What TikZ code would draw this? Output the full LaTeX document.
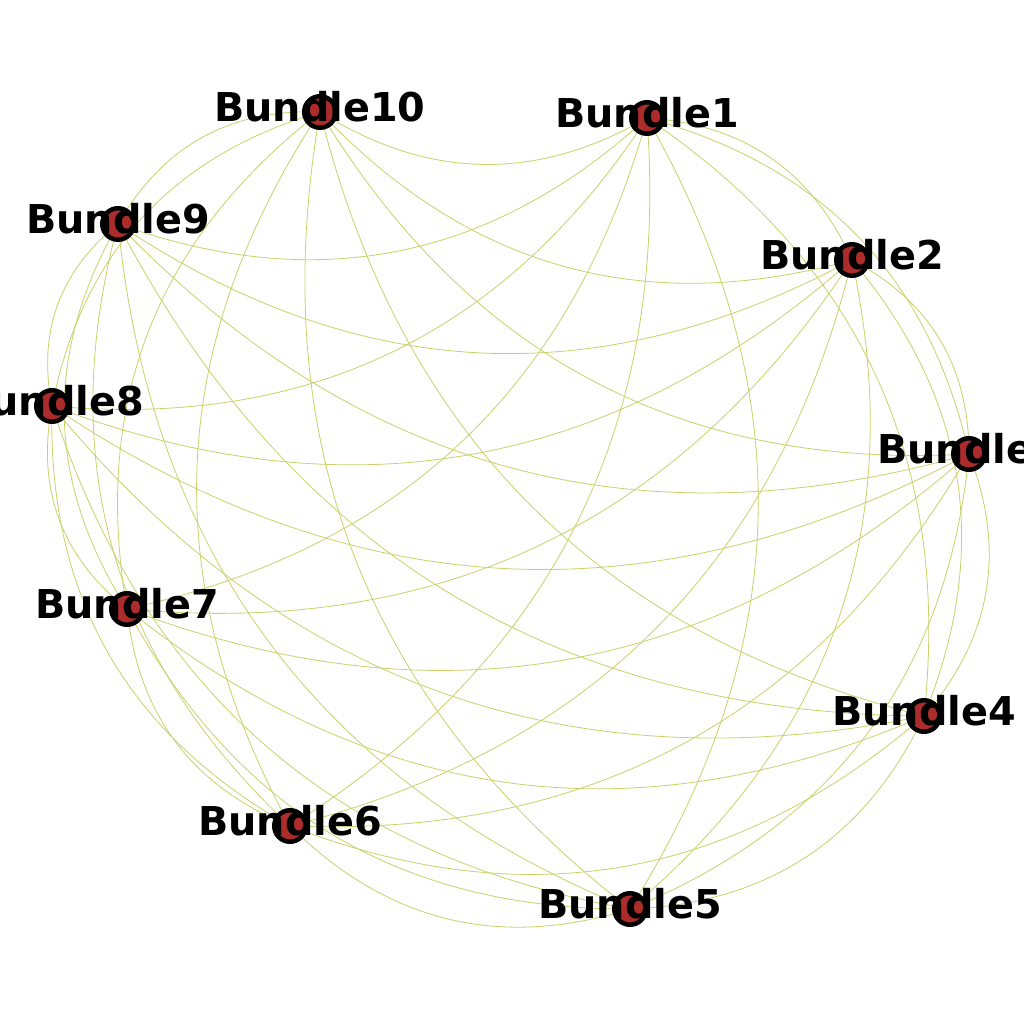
\documentclass[tikz,border=0pt]{standalone}
\usepackage{fontspec}
\setmainfont{DejaVu Sans}
\definecolor{edgecol}{RGB}{200,210,105}
\definecolor{nodefill}{RGB}{172,44,44}
\pgfdeclarelayer{bg}
\pgfsetlayers{bg,main}
\begin{document}
\begin{tikzpicture}[x=0.75pt,y=0.75pt,
  edge/.style={draw=edgecol, line width=0.6pt, bend left=31},
  bnode/.style={circle, fill=nodefill, draw=black, line width=3.4pt, minimum size=23.6pt, inner sep=0pt},
  blabel/.style={anchor=base, font=\fontsize{29.8}{30}\selectfont\bfseries, inner sep=0pt}]
\useasboundingbox (0,0) rectangle (1024,1024);
\node[bnode] (n1) at (647,906) {};
\node[bnode] (n2) at (852,764) {};
\node[bnode] (n3) at (969,570) {};
\node[bnode] (n4) at (924,308) {};
\node[bnode] (n5) at (630,115) {};
\node[bnode] (n6) at (290,198) {};
\node[bnode] (n7) at (127,415) {};
\node[bnode] (n8) at (52,618) {};
\node[bnode] (n9) at (118,800) {};
\node[bnode] (n10) at (320,912) {};
\begin{pgfonlayer}{bg}
\fill[white] (0,0) rectangle (1024,1024);
\foreach \i in {1,...,9}{
  \pgfmathtruncatemacro\s{\i+1}
  \foreach \j in {\s,...,10}{
    \draw[edge] (n\i.center) to (n\j.center);
  }
}
\end{pgfonlayer}
\foreach \k in {1,...,10}{
  \node[blabel] (t\k) at ([yshift=-7.5pt]n\k.center) {Bundle\k};
}
\end{tikzpicture}
\end{document}
